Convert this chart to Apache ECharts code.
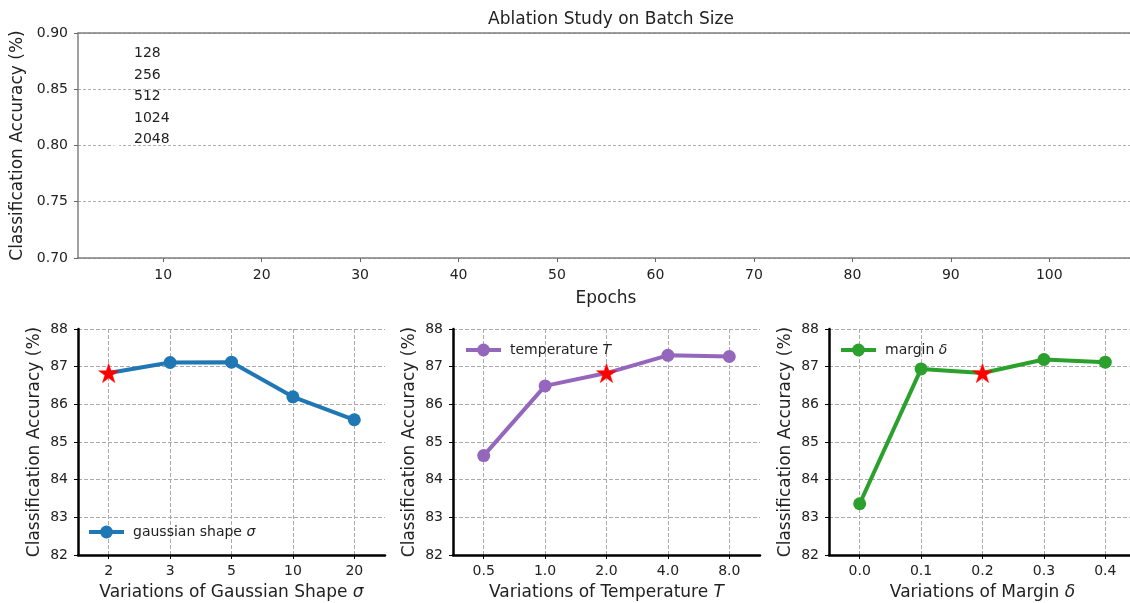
<!DOCTYPE html>
<html lang="en">
<head>
    <meta charset="UTF-8">
    <title>Ablation Study</title>
    <script src="https://cdn.jsdelivr.net/npm/echarts@6.0.0/dist/echarts.min.js"></script>
    <style>
        body { margin: 0; background: #fff; }
    </style>
</head>
<body>
<div id="main" style="width: 1130px;height:603px;"></div>

<script type="text/javascript">
    // top panel: batch size (no curves drawn, only the legend entries)
    var batchSizes = ['128', '256', '512', '1024', '2048'];
    var epochTicks = [10, 20, 30, 40, 50, 60, 70, 80, 90, 100];

    // bottom panels
    var sigmaLabels = ['2', '3', '5', '10', '20'];
    var sigmaAcc = [86.83, 87.11, 87.12, 86.20, 85.59];
    var sigmaStar = 0;

    var tempLabels = ['0.5', '1.0', '2.0', '4.0', '8.0'];
    var tempAcc = [84.64, 86.49, 86.83, 87.30, 87.27];
    var tempStar = 2;

    var marginLabels = ['0.0', '0.1', '0.2', '0.3', '0.4'];
    var marginAcc = [83.36, 86.94, 86.83, 87.19, 87.12];
    var marginStar = 2;

    var FONT = 'DejaVu Sans';
    var TXT = '#222';
    var SPINE = '#808080';
    var STAR = 'path://M0,-1L0.2245,-0.309L0.9511,-0.309L0.3633,0.118L0.5878,0.809L0,0.382L-0.5878,0.809L-0.3633,0.118L-0.9511,-0.309L-0.2245,-0.309Z';

    function withStar(values, idx) {
        return values.map(function (v, i) {
            if (i !== idx) return v;
            return {
                value: v,
                symbol: STAR,
                symbolSize: 20,
                symbolKeepAspect: true,
                itemStyle: {color: '#ff0000', borderColor: '#ff0000', borderWidth: 0.5}
            };
        });
    }

    var myChart = echarts.init(document.getElementById('main'));

    var grids = [
        {left: 78, top: 33, width: 1056, height: 225, outerBoundsMode: 'none'},
        {left: 78, top: 329, width: 307, height: 226, outerBoundsMode: 'none'},
        {left: 453, top: 329, width: 307, height: 226, outerBoundsMode: 'none'},
        {left: 829, top: 329, width: 307, height: 226, outerBoundsMode: 'none'}
    ];

    var bottomNames = [
        'Variations of Gaussian Shape {i|σ}',
        'Variations of Temperature {i|T}',
        'Variations of Margin {i|δ}'
    ];
    var bottomCats = [sigmaLabels, tempLabels, marginLabels];

    var xAxes = [{
        type: 'value', gridIndex: 0, min: 1.35, max: 108.6,
        name: 'Epochs', nameLocation: 'middle', nameGap: 32,
        nameTextStyle: {fontFamily: FONT, fontSize: 17, color: TXT},
        axisLine: {show: true, onZero: false, lineStyle: {color: SPINE, width: 1.5}},
        axisTick: {show: true, length: 4, customValues: epochTicks, lineStyle: {color: '#666'}},
        axisLabel: {customValues: epochTicks, margin: 10, fontFamily: FONT, fontSize: 14, color: TXT},
        splitLine: {show: false}
    }, {
        // top spine only
        type: 'value', gridIndex: 0, position: 'top', min: 1.35, max: 108.6,
        axisLine: {show: true, onZero: false, lineStyle: {color: SPINE, width: 1.5}},
        axisTick: {show: false}, axisLabel: {show: false}, splitLine: {show: false}
    }];
    var yAxes = [{
        type: 'value', gridIndex: 0, min: 0.7, max: 0.9, interval: 0.05,
        name: 'Classification Accuracy (%)', nameLocation: 'middle', nameGap: 48,
        nameTextStyle: {fontFamily: FONT, fontSize: 17, color: TXT},
        axisLine: {show: true, onZero: false, lineStyle: {color: SPINE, width: 1.5}},
        axisTick: {show: true, length: 4, lineStyle: {color: '#666'}},
        axisLabel: {margin: 10, fontFamily: FONT, fontSize: 14, color: TXT,
            formatter: function (v) { return v.toFixed(2); }},
        splitLine: {show: true, lineStyle: {color: '#b0b0b0', type: [3, 2], width: 1}}
    }];

    for (var g = 1; g <= 3; g++) {
        xAxes.push({
            type: 'category', gridIndex: g, data: bottomCats[g - 1], boundaryGap: true,
            name: bottomNames[g - 1], nameLocation: 'middle', nameGap: 29,
            nameTextStyle: {fontFamily: FONT, fontSize: 17, color: TXT,
                rich: {i: {fontFamily: FONT, fontSize: 17, fontStyle: 'italic', color: TXT}}},
            axisLine: {show: true, lineStyle: {color: '#000', width: 2.5}},
            axisTick: {show: true, alignWithLabel: true, length: 4, interval: 0, lineStyle: {color: '#000'}},
            axisLabel: {interval: 0, margin: 9, fontFamily: FONT, fontSize: 14, color: TXT},
            splitLine: {show: true, alignWithLabel: true, interval: 0,
                lineStyle: {color: '#aaa', type: [4, 2], width: 1}}
        });
        yAxes.push({
            type: 'value', gridIndex: g, min: 82, max: 88, interval: 1,
            name: 'Classification Accuracy (%)', nameLocation: 'middle', nameGap: 35,
            nameTextStyle: {fontFamily: FONT, fontSize: 17, color: TXT},
            axisLine: {show: true, lineStyle: {color: '#000', width: 2.5}},
            axisTick: {show: true, length: 4, lineStyle: {color: '#000'}},
            axisLabel: {margin: 10, fontFamily: FONT, fontSize: 14, color: TXT},
            splitLine: {show: true, lineStyle: {color: '#aaa', type: [4, 2], width: 1}}
        });
    }

    var series = [];
    batchSizes.forEach(function (b) {
        series.push({
            name: b, type: 'line', xAxisIndex: 0, yAxisIndex: 0, data: [],
            itemStyle: {color: 'rgba(0,0,0,0)'}, lineStyle: {color: 'rgba(0,0,0,0)'}
        });
    });

    // bottom axes start at index 2 (index 1 is the top spine of the first panel)
    function accSeries(name, color, idx, values, star) {
        return {
            name: name, type: 'line', xAxisIndex: idx + 1, yAxisIndex: idx,
            data: withStar(values, star),
            symbol: 'circle', symbolSize: 13, showSymbol: true,
            lineStyle: {width: 4, color: color},
            itemStyle: {color: color},
            z: 5
        };
    }
    series.push(accSeries('gaussian shape σ', '#1f77b4', 1, sigmaAcc, sigmaStar));
    series.push(accSeries('temperature T', '#9467bd', 2, tempAcc, tempStar));
    series.push(accSeries('margin δ', '#2ca02c', 3, marginAcc, marginStar));

    var legendText = {fontFamily: FONT, fontSize: 14, color: TXT, padding: [0, 0, 0, 4],
        rich: {i: {fontFamily: FONT, fontSize: 14, fontStyle: 'italic', color: TXT}}};
    function lastWordItalic(name) {
        var k = name.lastIndexOf(' ');
        return name.slice(0, k + 1) + '{i|' + name.slice(k + 1) + '}';
    }
    function accLegend(name, left, top) {
        return {
            data: [name], left: left, top: top, padding: 0,
            itemWidth: 35, itemHeight: 16,
            lineStyle: {width: 4},
            formatter: lastWordItalic, textStyle: legendText
        };
    }

    var option = {
        animation: false,
        backgroundColor: '#fff',
        title: {
            text: 'Ablation Study on Batch Size', left: 606, top: 6, textAlign: 'center',
            textStyle: {fontFamily: FONT, fontSize: 17, fontWeight: 'normal', color: TXT}
        },
        grid: grids,
        xAxis: xAxes,
        yAxis: yAxes,
        legend: [
            {data: batchSizes, orient: 'vertical', left: 103, top: 46, padding: 0,
                itemWidth: 25, itemHeight: 16, itemGap: 6.75,
                textStyle: {fontFamily: FONT, fontSize: 14, color: TXT}},
            accLegend('gaussian shape σ', 87, 525),
            accLegend('temperature T', 464, 343),
            accLegend('margin δ', 839, 343)
        ],
        series: series
    };

    myChart.setOption(option);
</script>
</body>
</html>
